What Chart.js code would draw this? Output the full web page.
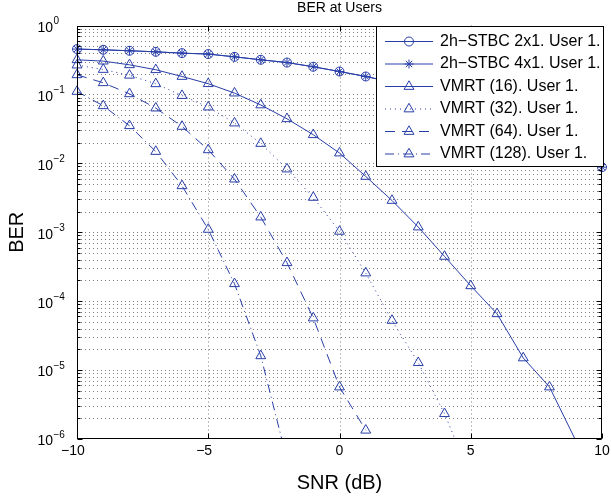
<!DOCTYPE html>
<html>
<head>
<meta charset="utf-8">
<script src="https://cdn.jsdelivr.net/npm/chart.js@4.4.1/dist/chart.umd.min.js"></script>
<style>
html,body{margin:0;padding:0;background:#fff;}
canvas{display:block;}
</style>
</head>
<body>
<canvas id="c" width="611" height="498"></canvas>
<script>
// ---------- data ----------
const snr = [-10,-9,-8,-7,-6,-5,-4,-3,-2,-1,0,1,2,3,4,5,6,7,8,9,10];
const stbc2x1 = [0.455,0.444,0.430,0.415,0.397,0.385,0.351,0.318,0.290,0.252,0.215,0.182,0.151,0.122,0.0944,0.070,0.050,0.0343,0.0224,0.0141,0.0088];
const stbc4x1 = [0.455,0.444,0.430,0.415,0.397,0.385,0.351,0.318,0.290,0.252,0.215,0.182,0.151,0.122,0.0944,0.070,0.050,0.0343,0.0224,0.0141,0.0088];
const vmrt16  = [0.318,0.304,0.269,0.228,0.182,0.143,0.1045,0.0703,0.0443,0.0260,0.0141,0.00645,0.00289,0.00119,4.46e-4,1.67e-4,6.56e-5,1.50e-5,5.68e-6,9.5e-7,null];
const vmrt32  = [0.2664,0.230,0.1896,0.1426,0.0962,0.0655,0.0384,0.0194,0.00826,0.0032,0.00103,2.56e-4,5.25e-5,1.28e-5,2.33e-6,2.8e-7,null,null,null,null,null];
const vmrt64  = [0.1926,0.1475,0.102,0.0633,0.0343,0.0157,0.0059,0.00166,3.61e-4,5.69e-5,5.68e-6,1.34e-6,null,null,null,null,null,null,null,null,null];
const vmrt128 = [0.1103,0.0684,0.0351,0.01486,0.00472,0.0011,1.79e-4,1.61e-5,5e-7,null,null,null,null,null,null,null,null,null,null,null,null];
const seriesLabels = ['2h\u2212STBC 2x1. User 1.','2h\u2212STBC 4x1. User 1.','VMRT (16). User 1.','VMRT (32). User 1.','VMRT (64). User 1.','VMRT (128). User 1.'];
const xTickValues = [-10,-5,0,5,10];
const xGridValues = [-5,0,5];
const yDecadeExps = [-6,-5,-4,-3,-2,-1,0];
const titleText = 'BER at Users';
const xTitle = 'SNR (dB)';
const yTitle = 'BER';

// ---------- style ----------
const BLUE = 'rgb(40,62,168)';
const GRID = 'rgba(0,0,0,0.5)';
const FONT = "'Liberation Sans', Arial, Helvetica, sans-serif";
const YMIN = 1e-6, YMAX = 1;

function makeSet(label, values, style, radius, dash) {
  const pts = [];
  values.forEach((v, i) => { if (v !== null) pts.push({x: snr[i], y: v}); });
  return {
    label, data: pts,
    borderColor: BLUE, backgroundColor: 'rgba(0,0,0,0)', borderWidth: 1,
    borderDash: dash, fill: false, tension: 0,
    pointStyle: style, _r: radius,
    pointRadius: c => (c.raw && c.raw.y < YMIN) ? 0 : radius,
    pointHoverRadius: c => (c.raw && c.raw.y < YMIN) ? 0 : radius,
    pointBorderColor: BLUE, pointBackgroundColor: 'rgba(0,0,0,0)', pointBorderWidth: 1,
    clip: {left: 10, top: 10, right: 10, bottom: 0}
  };
}

const datasets = [
  makeSet(seriesLabels[0], stbc2x1, 'circle', 4.5, []),
  makeSet(seriesLabels[1], stbc4x1, 'star', 4.5, []),
  makeSet(seriesLabels[2], vmrt16, 'triangle', 5.7, []),
  makeSet(seriesLabels[3], vmrt32, 'triangle', 5.7, [1, 4]),
  makeSet(seriesLabels[4], vmrt64, 'triangle', 5.7, [10, 7]),
  makeSet(seriesLabels[5], vmrt128, 'triangle', 5.7, [9, 4, 1, 4])
];

function marker(ctx, style, x, y, r) {
  ctx.beginPath();
  if (style === 'circle') {
    ctx.arc(x, y, r, 0, Math.PI * 2);
  } else if (style === 'triangle') {
    ctx.moveTo(x, y - r);
    ctx.lineTo(x + r * 0.866, y + r / 2);
    ctx.lineTo(x - r * 0.866, y + r / 2);
    ctx.closePath();
  } else if (style === 'star') {
    ctx.moveTo(x, y - r); ctx.lineTo(x, y + r);
    ctx.moveTo(x - r, y); ctx.lineTo(x + r, y);
    const d = r * 0.7071;
    ctx.moveTo(x - d, y - d); ctx.lineTo(x + d, y + d);
    ctx.moveTo(x - d, y + d); ctx.lineTo(x + d, y - d);
  }
  ctx.stroke();
}

const axesPlugin = {
  id: 'matlabAxes',
  beforeDatasetsDraw(chart) {
    const {ctx, chartArea: a} = chart;
    const xs = chart.scales.x, ys = chart.scales.y;
    ctx.save();
    ctx.strokeStyle = GRID; ctx.lineWidth = 1; ctx.setLineDash([1, 3]);
    for (const e of yDecadeExps) {
      if (e === 0) continue;
      for (let k = 1; k <= 9; k++) {
        if (e === -6 && k === 1) continue;
        const py = Math.round(ys.getPixelForValue(k * Math.pow(10, e))) + 0.5;
        ctx.beginPath(); ctx.moveTo(a.left, py); ctx.lineTo(a.right, py); ctx.stroke();
      }
    }
    for (const v of xGridValues) {
      const px = Math.round(xs.getPixelForValue(v)) + 0.5;
      ctx.beginPath(); ctx.moveTo(px, a.top); ctx.lineTo(px, a.bottom); ctx.stroke();
    }
    ctx.restore();
  },
  afterDatasetsDraw(chart) {
    const {ctx, chartArea: a} = chart;
    const xs = chart.scales.x, ys = chart.scales.y;
    const L = Math.round(a.left) + 0.5, R = Math.round(a.right) - 0.5;
    const T = Math.round(a.top) + 0.5, B = Math.round(a.bottom) - 0.5;
    ctx.save();
    ctx.setLineDash([]);
    ctx.strokeStyle = '#000'; ctx.lineWidth = 1;
    ctx.strokeRect(L, T, R - L, B - T);
    // y ticks (inside, left & right)
    ctx.beginPath();
    for (const e of yDecadeExps) {
      for (let k = 1; k <= 9; k++) {
        if (e === 0 && k > 1) break;
        const py = Math.round(ys.getPixelForValue(k * Math.pow(10, e))) + 0.5;
        const len = k === 1 ? 5 : 3;
        ctx.moveTo(L, py); ctx.lineTo(L + len, py);
        ctx.moveTo(R, py); ctx.lineTo(R - len, py);
      }
    }
    // x ticks
    for (const v of xTickValues) {
      const px = Math.round(xs.getPixelForValue(v)) + 0.5;
      ctx.moveTo(px, B); ctx.lineTo(px, B - 5);
      ctx.moveTo(px, T); ctx.lineTo(px, T + 5);
    }
    ctx.stroke();

    // y tick labels
    ctx.fillStyle = '#000';
    for (const e of yDecadeExps) {
      const py = ys.getPixelForValue(Math.pow(10, e));
      ctx.font = '14px ' + FONT;
      ctx.textAlign = 'right'; ctx.textBaseline = 'middle';
      ctx.fillText('10', 53, py + 2.5);
      ctx.font = '10px ' + FONT;
      ctx.textAlign = 'left';
      ctx.fillText(e === 0 ? '0' : '\u2212' + (-e), 53.5, py - 4);
    }
    // x tick labels
    ctx.font = '14px ' + FONT;
    ctx.textBaseline = 'middle';
    for (const v of xTickValues) {
      const px = xs.getPixelForValue(v);
      const digits = String(Math.abs(v));
      const w = ctx.measureText(digits).width;
      ctx.textAlign = 'center';
      ctx.fillText(digits, px, 451.5);
      if (v < 0) { ctx.textAlign = 'right'; ctx.fillText('\u2212', px - w / 2, 451.5); }
    }
    // axis titles
    ctx.font = '20px ' + FONT;
    ctx.textAlign = 'center'; ctx.textBaseline = 'middle';
    ctx.fillText(xTitle, (a.left + a.right) / 2, 483);
    ctx.save();
    ctx.translate(17, (a.top + a.bottom) / 2);
    ctx.rotate(-Math.PI / 2);
    ctx.fillText(yTitle, 0, 0);
    ctx.restore();
    // title
    ctx.font = '14px ' + FONT;
    ctx.fillText(titleText, (a.left + a.right) / 2, 8);

    // legend
    const bx = 376.5, by = 26.5, bw = 227, bh = 140;
    ctx.fillStyle = '#fff';
    ctx.fillRect(bx, by, bw, bh);
    ctx.strokeStyle = '#000';
    ctx.strokeRect(bx, by, bw, bh);
    chart.data.datasets.forEach((d, i) => {
      const ry = 41.5 + i * 22.5;
      ctx.strokeStyle = BLUE; ctx.lineWidth = 1;
      ctx.setLineDash(d.borderDash || []);
      ctx.beginPath(); ctx.moveTo(385, ry); ctx.lineTo(433, ry); ctx.stroke();
      ctx.setLineDash([]);
      marker(ctx, d.pointStyle, 409, ry, d._r);
      ctx.fillStyle = '#000';
      ctx.font = '16px ' + FONT;
      ctx.textAlign = 'left'; ctx.textBaseline = 'middle';
      ctx.fillText(d.label, 440, ry);
    });
    ctx.restore();
  }
};

new Chart(document.getElementById('c').getContext('2d'), {
  type: 'line',
  data: { datasets },
  options: {
    responsive: false, animation: false, devicePixelRatio: 1,
    layout: { padding: { left: 77, right: 9, top: 25.5, bottom: 59 } },
    plugins: { legend: { display: false }, title: { display: false }, tooltip: { enabled: false } },
    events: [],
    scales: {
      x: { type: 'linear', min: -10, max: 10, display: false },
      y: { type: 'logarithmic', min: YMIN, max: YMAX, display: false }
    }
  },
  plugins: [axesPlugin]
});
</script>
</body>
</html>
